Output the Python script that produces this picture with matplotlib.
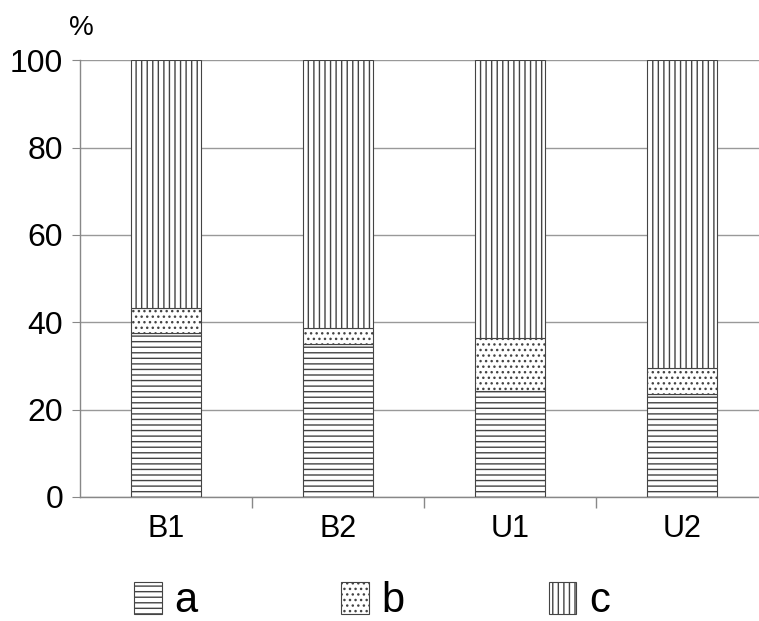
import matplotlib
matplotlib.use('Agg')
import matplotlib.pyplot as plt
import matplotlib.patches as mpatches
import numpy as np

plt.rcParams['font.family'] = ['Liberation Sans', 'DejaVu Sans']
plt.rcParams['hatch.linewidth'] = 1.0
plt.rcParams['hatch.color'] = '#222222'

categories = ['B1', 'B2', 'U1', 'U2']
share_a = [37.5, 35.0, 24.2, 23.5]
share_b = [5.8, 3.7, 12.2, 6.0]
share_c = [100 - a - b for a, b in zip(share_a, share_b)]

series = [('a', share_a, '---'), ('b', share_b, '...'), ('c', share_c, '|||')]

fig = plt.figure(figsize=(7.59, 6.21), dpi=100)
ax = fig.add_axes([0.1054, 0.1997, 0.9066, 0.7033])

x = np.arange(len(categories))
bottom = np.zeros(len(categories))
handles = []
for name, vals, hatch in series:
    ax.bar(x, vals, width=0.41, bottom=bottom, color='white',
           edgecolor='#444444', linewidth=0.8, hatch=hatch, zorder=3)
    bottom += np.array(vals)
    handles.append(mpatches.Patch(facecolor='white', edgecolor='#444444',
                                  linewidth=0.8, hatch=hatch, label=name))

ax.set_xlim(-0.5, len(categories) - 0.5)
ax.set_ylim(0, 100)
ax.set_yticks([0, 20, 40, 60, 80, 100])
ax.set_xticks(x)
ax.set_xticklabels(categories)
ax.set_xticks(np.arange(0.5, len(categories) - 0.5, 1), minor=True)
ax.tick_params(axis='x', which='major', length=0, labelsize=22, pad=12)
ax.tick_params(axis='x', which='minor', length=8, color='#888888', width=1)
ax.tick_params(axis='y', length=6, color='#888888', labelsize=23, pad=6)
ax.yaxis.grid(True, color='#999999', linewidth=1, zorder=0)
for s in ['top', 'right']:
    ax.spines[s].set_visible(False)
for s in ['left', 'bottom']:
    ax.spines[s].set_color('#888888')
    ax.spines[s].set_linewidth(1)

fig.text(0.107, 0.955, '%', fontsize=20, ha='center', va='center')

fig.legend(handles=handles, loc='center', bbox_to_anchor=(0.49, 0.032),
           ncol=3, frameon=False, fontsize=30, handlelength=0.67,
           handleheight=0.8, handletextpad=0.3, columnspacing=3.45,
           borderpad=0, borderaxespad=0)

fig.savefig('out.png', dpi=100)
